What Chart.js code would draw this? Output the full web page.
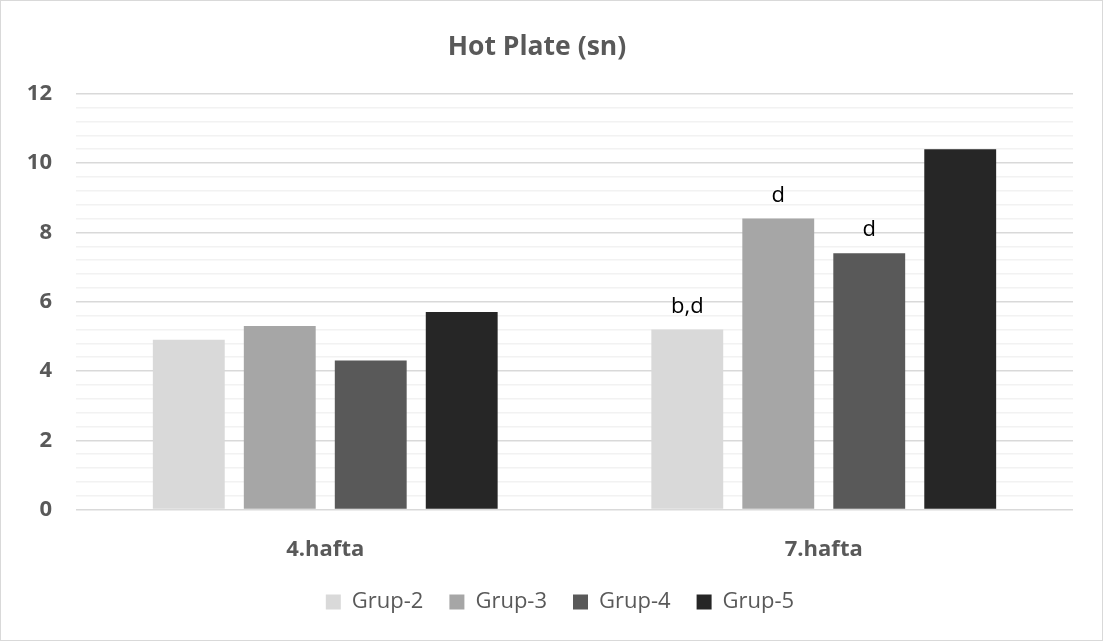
<!DOCTYPE html>
<html>
<head>
<meta charset="utf-8">
<script src="https://cdn.jsdelivr.net/npm/chart.js@4/dist/chart.umd.min.js"></script>
<style>
  html, body { margin: 0; padding: 0; background: #fff; }
  #wrap { position: absolute; left: 0; top: 0; width: 1101px; height: 639px; border: 1px solid #d9d9d9; }
</style>
</head>
<body>
<div id="wrap"><canvas id="myChart" width="1101" height="639"></canvas></div>
<script>
const weeks = ['4.hafta', '7.hafta'];
const groups = ['Grup-2', 'Grup-3', 'Grup-4', 'Grup-5'];
const grup2 = [4.9, 5.2];
const grup3 = [5.3, 8.4];
const grup4 = [4.3, 7.4];
const grup5 = [5.7, 10.4];
const marks2 = ['', 'b,d'];
const marks3 = ['', 'd'];
const marks4 = ['', 'd'];
const marks5 = ['', ''];
const colors = ['#d9d9d9', '#a6a6a6', '#595959', '#262626'];

const allVals = [grup2, grup3, grup4, grup5];
const allMarks = [marks2, marks3, marks4, marks5];

const datasets = [];
for (let i = 0; i < groups.length; i++) {
  datasets.push({
    label: groups[i],
    data: allVals[i],
    marks: allMarks[i],
    backgroundColor: colors[i],
    borderWidth: 0,
    categoryPercentage: 0.73,
    barPercentage: 0.79
  });
}

// letters above bars
const markPlugin = {
  id: 'marks',
  afterDatasetsDraw(chart) {
    const ctx = chart.ctx;
    ctx.save();
    ctx.font = '22px "Open Sans"';
    ctx.fillStyle = '#000';
    ctx.textAlign = 'center';
    ctx.textBaseline = 'bottom';
    chart.data.datasets.forEach(function(ds, i) {
      const meta = chart.getDatasetMeta(i);
      meta.data.forEach(function(bar, j) {
        const t = ds.marks[j];
        if (t) ctx.fillText(t, bar.x, bar.y - 12);
      });
    });
    ctx.restore();
  }
};

// nudge legend a bit to the right like the original
const legendShift = {
  id: 'legendShift',
  afterLayout(chart) {
    if (chart.legend) {
      chart.legend.left += 23;
      chart.legend.right += 23;
    }
  }
};

function isMajor(v) {
  return Math.abs(v / 2 - Math.round(v / 2)) < 1e-6;
}

const myChart = new Chart(document.getElementById('myChart'), {
  type: 'bar',
  data: { labels: weeks, datasets: datasets },
  plugins: [markPlugin, legendShift],
  options: {
    responsive: false,
    animation: false,
    layout: { padding: { left: 0, right: 29, top: 0, bottom: 17 } },
    plugins: {
      title: {
        display: true,
        text: 'Hot Plate (sn)',
        color: '#595959',
        font: { family: '"Open Sans"', size: 26.5, weight: 'bold' },
        padding: { top: 31, bottom: 30 }
      },
      legend: {
        position: 'bottom',
        labels: {
          color: '#595959',
          font: { family: '"Open Sans"', size: 22 },
          boxWidth: 15,
          boxHeight: 15,
          padding: 26
        }
      },
      tooltip: { enabled: false }
    },
    scales: {
      x: {
        grid: { display: false },
        border: { display: false },
        afterFit: function(scale) { scale.height -= 17; },
        ticks: {
          color: '#595959',
          font: { family: '"Open Sans"', size: 22, weight: 'bold' },
          padding: 19
        }
      },
      y: {
        min: 0,
        max: 12,
        afterFit: function(scale) { scale.width = 75; },
        border: { display: false },
        grid: {
          drawTicks: false,
          color: function(c) { return isMajor(c.tick.value) ? '#d9d9d9' : '#f2f2f2'; },
          lineWidth: 1.5
        },
        ticks: {
          stepSize: 0.4,
          autoSkip: false,
          padding: 24,
          color: '#595959',
          font: { family: '"Open Sans"', size: 22, weight: 'bold' },
          callback: function(v) { return isMajor(v) ? Math.round(v).toString() : ''; }
        }
      }
    }
  }
});
</script>
</body>
</html>
